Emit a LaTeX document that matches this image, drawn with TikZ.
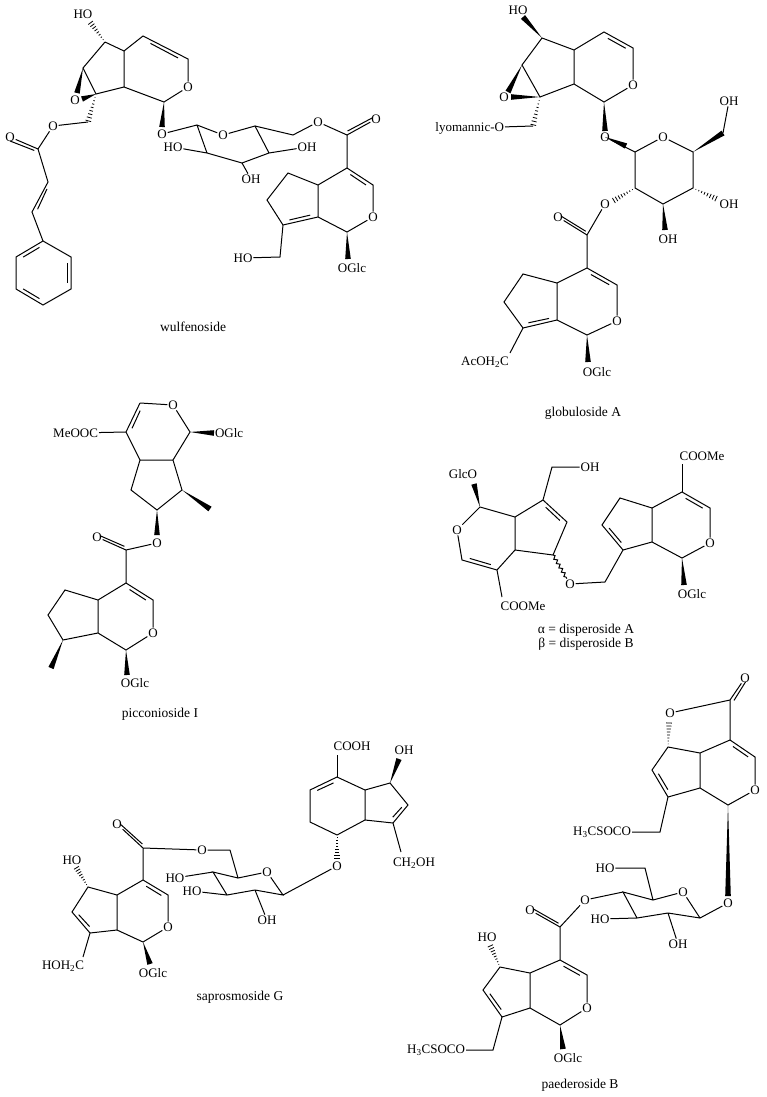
\documentclass[tikz,border=0pt]{standalone}
\usepackage{fontspec}
\setmainfont{Liberation Serif}
\usetikzlibrary{calc,decorations.pathmorphing}
\tikzset{bond/.style={line width=1pt},
 lab/.style={inner sep=0.8pt,font=\fontsize{13}{14}\selectfont},
 title/.style={inner sep=0pt,font=\fontsize{13.5}{15}\selectfont}}
\newcommand\wdg[2]{\fill ($(#1)$) -- ($(#2)!2.8pt!90:(#1)$) -- ($(#2)!2.8pt!-90:(#1)$) -- cycle;}
\newcommand\hsh[2]{\foreach \hh in {0.12,0.24,...,0.97}{\draw[line width=0.8pt] ($ ($(#1)!\hh!(#2)$)!\hh*3pt!90:(#2) $) -- ($ ($(#1)!\hh!(#2)$)!\hh*3pt!-90:(#2) $);}}
\newcommand\dbl[4][0.15]{\draw[bond] ($ ($(#2)!#1!(#3)$)!4pt!(#4) $) -- ($ ($(#3)!#1!(#2)$)!4pt!(#4) $);}
\begin{document}
\begin{tikzpicture}[x=1pt,y=-1pt]
\useasboundingbox (0,0) rectangle (766,1097);
% ================= wulfenoside
\coordinate (w7) at (105,42); \coordinate (w4a) at (124,51); \coordinate (w4) at (143,36);
\coordinate (w3) at (188,59); \coordinate (w1) at (164,102); \coordinate (w7a) at (124,87);
\coordinate (w6) at (83,68); \coordinate (w8) at (96,94);
\node[lab] (wO) at (188,87) {O}; \node[lab] (wHO) at (83,14) {HO}; \node[lab] (wEp) at (75,100) {O};
\draw[bond] (w7)--(w4a)--(w4)--(w3)--(wO)--(w1)--(w7a)--(w4a) (w7a)--(w8)--(w6)--(w7);
\dbl{w4}{w3}{156,75}
\coordinate (wHOe) at (90,22); \hsh{w7}{wHOe}
\coordinate (wEa) at (77,93); \coordinate (wEb) at (82,99); \wdg{w6}{wEa} \wdg{w8}{wEb}
\coordinate (wc) at (88,122); \hsh{w8}{wc}
\node[lab] (wO2) at (53,126) {O}; \coordinate (wC) at (38,149); \node[lab] (wOc) at (10,137) {O};
\coordinate (wa) at (48,182); \coordinate (wb) at (32,212);
\coordinate (p1) at (43,241); \coordinate (p2) at (71,257); \coordinate (p3) at (71,289);
\coordinate (p4) at (43,305); \coordinate (p5) at (16,289); \coordinate (p6) at (16,257);
\draw[bond] (wc)--(wO2)--(wC)--(wa)--(wb)--(p1)--(p2)--(p3)--(p4)--(p5)--(p6)--(p1);
\draw[bond] (wC)--(wOc); \dbl[0]{wC}{wOc}{10,160}
\dbl[0.1]{wa}{wb}{50,210}
\dbl{p2}{p3}{43,273} \dbl{p4}{p5}{43,273} \dbl{p6}{p1}{43,273}
\coordinate (w1e) at (162,127); \wdg{w1}{w1e} \node[lab] (wO3) at (162,134) {O};
\coordinate (s1) at (197,125); \node[lab] (sO) at (223,135) {O}; \coordinate (s5) at (255,126);
\coordinate (s4) at (269,153); \coordinate (s3) at (242,163); \coordinate (s2) at (207,153);
\node[lab] (sHO2) at (173,147) {HO}; \node[lab] (sOH4) at (307,147) {OH}; \node[lab] (sOH3) at (251,179) {OH};
\coordinate (sc) at (293,135); \node[lab] (sO6) at (318,122) {O}; \coordinate (we) at (347,135);
\node[lab] (weO) at (376,119) {O};
\draw[bond] (wO3)--(s1)--(sO)--(s5)--(s4)--(s3)--(s2)--(s1) (s2)--(sHO2) (s4)--(sOH4) (s3)--(sOH3)
  (s5)--(sc)--(sO6)--(we)--(weO);
\dbl[0]{we}{weO}{350,112}
\coordinate (i4) at (347,168); \coordinate (i3) at (373,185); \node[lab] (iO) at (373,217) {O};
\coordinate (i1) at (347,232); \coordinate (i7a) at (318,217); \coordinate (i4a) at (318,185);
\coordinate (i5) at (288,173); \coordinate (i6) at (267,200); \coordinate (i7) at (283,225);
\coordinate (ic) at (280,257); \node[lab] (iHO) at (243,258) {HO};
\draw[bond] (we)--(i4)--(i3)--(iO)--(i1)--(i7a)--(i4a)--(i4) (i4a)--(i5)--(i6)--(i7)--(i7a) (i7)--(ic)--(iHO);
\dbl{i4}{i3}{347,200} \dbl{i7}{i7a}{296,198}
\coordinate (i1e) at (348,259); \wdg{i1}{i1e} \node[lab] at (352,268) {OGlc};
\node[title] at (193,327) {wulfenoside};
% ================= globuloside A
\coordinate (g7) at (542,38); \coordinate (g4a) at (574,50); \coordinate (g4) at (604,32);
\coordinate (g3) at (633,48); \coordinate (g1) at (604,102); \coordinate (g7a) at (574,84);
\coordinate (g6) at (522,65); \coordinate (g8) at (540,97);
\node[lab] (gO) at (633,85) {O}; \node[lab] (gHO) at (518,10) {HO}; \node[lab] (gEp) at (504,97) {O};
\draw[bond] (g7)--(g4a)--(g4)--(g3)--(gO)--(g1)--(g7a)--(g4a) (g7a)--(g8)--(g6)--(g7);
\dbl{g4}{g3}{604,68}
\coordinate (gHOe) at (523,17); \wdg{g7}{gHOe}
\coordinate (gEa) at (508,92); \coordinate (gEb) at (511,97); \wdg{g6}{gEa} \wdg{g8}{gEb}
\coordinate (gc) at (533,126); \hsh{g8}{gc}
\node[lab,anchor=east] (gly) at (505,128) {lyomannic-O}; \draw[bond] (gc)--(gly);
\coordinate (g1e) at (605,131); \wdg{g1}{g1e} \node[lab] (gO3) at (605,137) {O};
\coordinate (t1) at (635,152); \node[lab] (tO) at (663,137) {O}; \coordinate (t5) at (693,152);
\coordinate (t6) at (723,133); \node[lab] (tOH6) at (729,101) {OH};
\coordinate (t4) at (693,188); \coordinate (t3) at (663,204); \coordinate (t2) at (635,188);
\node[lab] (tOH4) at (729,204) {OH}; \node[lab] (tOH3) at (668,239) {OH}; \node[lab] (tO2) at (605,204) {O};
\draw[bond] (gO3)--(t1)--(tO)--(t5)--(t4)--(t3)--(t2)--(t1) (t6)--(tOH6);
\coordinate (t1w) at (626,146); \wdg{gO3}{t1w}
\wdg{t5}{t6}
\coordinate (t4e) at (717,199); \hsh{t4}{t4e}
\coordinate (t3e) at (665,230); \wdg{t3}{t3e}
\coordinate (t2e) at (613,201); \hsh{t2}{t2e}
\coordinate (ge) at (587,235); \node[lab] (geO) at (558,217) {O};
\coordinate (h4) at (587,268); \coordinate (h3) at (617,285); \node[lab] (hO) at (617,321) {O};
\coordinate (h1) at (587,335); \coordinate (h7a) at (557,320); \coordinate (h4a) at (557,283);
\coordinate (h5) at (523,274); \coordinate (h6) at (504,302); \coordinate (h7) at (523,328);
\draw[bond] (tO2)--(ge)--(geO) (ge)--(h4)--(h3)--(hO)--(h1)--(h7a)--(h4a)--(h4) (h4a)--(h5)--(h6)--(h7)--(h7a);
\dbl[0]{ge}{geO}{580,215}
\dbl{h4}{h3}{587,300} \dbl{h7}{h7a}{530,300}
\coordinate (hce) at (510,353); \draw[bond] (h7)--(hce);
\node[lab] at (485,362) {AcOH\textsubscript{2}C};
\coordinate (h1e) at (588,362); \wdg{h1}{h1e} \node[lab] at (597,372) {OGlc};
\node[title] at (583,413) {globuloside A};
% ================= picconioside I
\coordinate (p3) at (140,403); \node[lab] (pO) at (173,405) {O}; \coordinate (pp1) at (190,432);
\coordinate (p7a) at (173,460); \coordinate (p4a) at (140,460); \coordinate (p4) at (126,432);
\node[lab,anchor=east] (pMe) at (99,433) {MeOOC};
\coordinate (pp5) at (131,490); \coordinate (pp6) at (157,510); \coordinate (p7) at (182,490);
\draw[bond] (p3)--(pO)--(pp1)--(p7a)--(p4a)--(p4)--(p3) (p4)--(pMe) (p4a)--(pp5)--(pp6)--(p7)--(p7a);
\dbl{p3}{p4}{155,432}
\coordinate (p1e) at (214,433); \wdg{pp1}{p1e} \node[lab,anchor=west] at (214,433) {OGlc};
\coordinate (p7e) at (210,509); \wdg{p7}{p7e}
\coordinate (p6e) at (157,535); \wdg{pp6}{p6e} \node[lab] (pO2) at (157,543) {O};
\coordinate (pe) at (126,550); \node[lab] (peO) at (97,537) {O};
\coordinate (q4) at (126,583); \coordinate (q3) at (153,600); \node[lab] (qO) at (153,633) {O};
\coordinate (q1) at (126,650); \coordinate (q7a) at (98,633); \coordinate (q4a) at (98,600);
\coordinate (q5) at (65,590); \coordinate (q6) at (48,615); \coordinate (q7) at (63,640);
\draw[bond] (pO2)--(pe)--(peO) (pe)--(q4)--(q3)--(qO)--(q1)--(q7a)--(q4a)--(q4) (q4a)--(q5)--(q6)--(q7)--(q7a);
\dbl[0]{pe}{peO}{118,532}
\dbl{q4}{q3}{126,617}
\coordinate (q7e) at (51,668); \wdg{q7}{q7e}
\coordinate (q1e) at (127,675); \wdg{q1}{q1e} \node[lab] at (135,683) {OGlc};
\node[title] at (160,714) {picconioside I};
% ================= disperoside
\coordinate (d1) at (480,507); \node[lab] (dGlc) at (463,474) {GlcO};
\coordinate (d1e) at (474,484); \wdg{d1}{d1e}
\node[lab] (dO) at (457,530) {O}; \coordinate (d3) at (462,560); \coordinate (d4) at (497,570);
\coordinate (d4a) at (515,550); \coordinate (d7a) at (515,517); \coordinate (d7) at (543,500);
\coordinate (dc) at (552,467); \node[lab] (dOH) at (590,467) {OH};
\coordinate (d6) at (567,522); \coordinate (d5) at (553,555);
\coordinate (d4e) at (502,597); \node[lab] at (523,606) {COOMe};
\draw[bond] (d1)--(dO)--(d3)--(d4)--(d4a)--(d7a)--(d1) (d7a)--(d7)--(d6)--(d5)--(d4a) (d7)--(dc)--(dOH) (d4)--(d4e);
\dbl{d3}{d4}{485,540} \dbl{d7}{d6}{540,530}
\node[lab] (dOx) at (570,584) {O};
\draw[bond,decorate,decoration={snake,amplitude=1.5pt,segment length=5pt}] (d5)--(dOx);
\coordinate (dc2) at (605,582); \coordinate (e8) at (623,550); \coordinate (e7) at (602,525);
\coordinate (e6) at (620,498); \coordinate (e4a) at (652,508); \coordinate (e7a) at (652,542);
\coordinate (e4) at (682,492); \coordinate (e3) at (710,508); \node[lab] (eO) at (710,543) {O};
\coordinate (e1) at (682,558);
\draw[bond] (dOx)--(dc2)--(e8)--(e7)--(e6)--(e4a)--(e7a)--(e8) (e4a)--(e4)--(e3)--(eO)--(e1)--(e7a);
\dbl{e8}{e7}{628,525} \dbl{e4}{e3}{682,525}
\coordinate (e4e) at (682,464); \draw[bond] (e4)--(e4e); \node[lab] at (702,456) {COOMe};
\coordinate (e1e) at (684,585); \wdg{e1}{e1e} \node[lab] at (692,594) {OGlc};
\node[title] at (586,630) {α = disperoside A};
\node[title] at (586,644) {β = disperoside B};
% ================= saprosmoside G
\coordinate (c4) at (143,880); \coordinate (c3) at (168,895); \node[lab] (cO) at (168,927) {O};
\coordinate (c1) at (143,942); \coordinate (c7a) at (117,930); \coordinate (c4a) at (117,895);
\coordinate (c5) at (88,887); \coordinate (c6) at (72,912); \coordinate (c7) at (90,933);
\coordinate (c5e) at (76,867); \hsh{c5}{c5e} \node[lab] at (72,860) {HO};
\coordinate (c7e) at (83,957); \node[lab] at (63,966) {HOH\textsubscript{2}C};
\coordinate (ce) at (143,848); \node[lab] (ceO) at (117,824) {O}; \node[lab] (cO2) at (202,850) {O};
\coordinate (cc) at (230,850);
\draw[bond] (c4)--(c3)--(cO)--(c1)--(c7a)--(c4a)--(c4) (c4a)--(c5)--(c6)--(c7)--(c7a) (c7)--(c7e)
  (c4)--(ce)--(ceO) (ce)--(cO2)--(cc);
\dbl{c4}{c3}{143,912} \dbl{c6}{c7}{100,912} \dbl[0]{ce}{ceO}{140,828}
\coordinate (c1e) at (150,964); \wdg{c1}{c1e} \node[lab] at (153,973) {OGlc};
\coordinate (v4) at (213,872); \coordinate (v5) at (238,878); \node[lab] (vO) at (267,872) {O};
\coordinate (v1) at (283,895); \coordinate (v2) at (255,890); \coordinate (v3) at (227,895);
\node[lab] (vHO4) at (175,878) {HO}; \node[lab] (vHO3) at (192,891) {HO}; \node[lab] (vOH2) at (267,920) {OH};
\node[lab] (vO1) at (337,866) {O};
\draw[bond] (cc)--(v5)--(vO)--(v1)--(v2)--(v3)--(v4)--(v5) (v4)--(vHO4) (v3)--(vHO3) (v2)--(vOH2) (v1)--(vO1);
\coordinate (r7) at (337,835); \coordinate (r6) at (310,822); \coordinate (r5) at (310,790);
\coordinate (r4) at (337,777); \coordinate (r3a) at (365,790); \coordinate (r7a) at (365,820);
\coordinate (r3) at (390,783); \coordinate (r2) at (408,805); \coordinate (r1) at (393,823);
\coordinate (r7e) at (337,859); \hsh{r7}{r7e}
\draw[bond] (r7)--(r6)--(r5)--(r4)--(r3a)--(r7a)--(r7) (r3a)--(r3)--(r2)--(r1)--(r7a);
\dbl{r5}{r4}{337,805} \dbl{r2}{r1}{383,805}
\coordinate (r4e) at (337,755); \draw[bond] (r4)--(r4e); \node[lab] at (352,746) {COOH};
\coordinate (r3e) at (399,759); \wdg{r3}{r3e} \node[lab] at (404,750) {OH};
\coordinate (r1e) at (401,852); \draw[bond] (r1)--(r1e); \node[lab,anchor=west] at (392,863) {CH\textsubscript{2}OH};
\node[title] at (240,997) {saprosmoside G};
% ================= paederoside B
\node[lab] (lO) at (670,713) {O}; \coordinate (lC) at (730,700); \node[lab] (lCO) at (745,678) {O};
\coordinate (l4) at (730,740); \coordinate (l3) at (755,757); \node[lab] (lOr) at (755,790) {O};
\coordinate (l1) at (728,805); \coordinate (l7a) at (700,788); \coordinate (l4a) at (700,753);
\coordinate (l5) at (668,747); \coordinate (l6) at (652,770); \coordinate (l7) at (668,797);
\coordinate (l5e) at (669,722); \hsh{l5}{l5e}
\draw[bond] (lO)--(lC)--(l4)--(l3)--(lOr)--(l1)--(l7a)--(l4a)--(l4) (l4a)--(l5)--(l6)--(l7)--(l7a) (lC)--(lCO);
\dbl[0]{lC}{lCO}{748,702}
\dbl{l4}{l3}{728,772} \dbl{l6}{l7}{680,772}
\coordinate (lc) at (660,832); \node[lab,anchor=east] (lS) at (632,832) {H\textsubscript{3}CSOCO};
\draw[bond] (l7)--(lc)--(lS);
\coordinate (l1e) at (728,896); \wdg{l1}{l1e} \node[lab] (uO1) at (728,903) {O};
\coordinate (u1) at (700,918); \node[lab] (uO) at (683,892) {O}; \coordinate (u5) at (653,900);
\coordinate (u4) at (623,892); \coordinate (u3) at (637,918); \coordinate (u2) at (668,913);
\coordinate (uc) at (645,868); \node[lab] (uHO6) at (605,868) {HO};
\node[lab] (uO4) at (585,900) {O}; \node[lab] (uHO3) at (600,919) {HO}; \node[lab] (uOH2) at (678,944) {OH};
\draw[bond] (uO1)--(u1)--(uO)--(u5)--(u4)--(u3)--(u2)--(u1) (u5)--(uc)--(uHO6) (u4)--(uO4) (u3)--(uHO3) (u2)--(uOH2);
\coordinate (ue) at (560,927); \node[lab] (ueO) at (530,910) {O};
\coordinate (m4) at (560,960); \coordinate (m3) at (587,975); \node[lab] (mO) at (587,1008) {O};
\coordinate (m1) at (560,1025); \coordinate (m7a) at (530,1008); \coordinate (m4a) at (530,973);
\coordinate (m5) at (500,967); \coordinate (m6) at (483,990); \coordinate (m7) at (502,1017);
\draw[bond] (uO4)--(ue)--(ueO) (ue)--(m4)--(m3)--(mO)--(m1)--(m7a)--(m4a)--(m4) (m4a)--(m5)--(m6)--(m7)--(m7a);
\dbl[0]{ue}{ueO}{552,906}
\dbl{m4}{m3}{560,992} \dbl{m6}{m7}{512,992}
\coordinate (m5e) at (490,945); \hsh{m5}{m5e} \node[lab] at (487,937) {HO};
\coordinate (mc) at (493,1050); \node[lab,anchor=east] (mS) at (466,1050) {H\textsubscript{3}CSOCO};
\draw[bond] (m7)--(mc)--(mS);
\coordinate (m1e) at (563,1049); \wdg{m1}{m1e} \node[lab] at (568,1058) {OGlc};
\node[title] at (580,1085) {paederoside B};
\end{tikzpicture}
\end{document}
